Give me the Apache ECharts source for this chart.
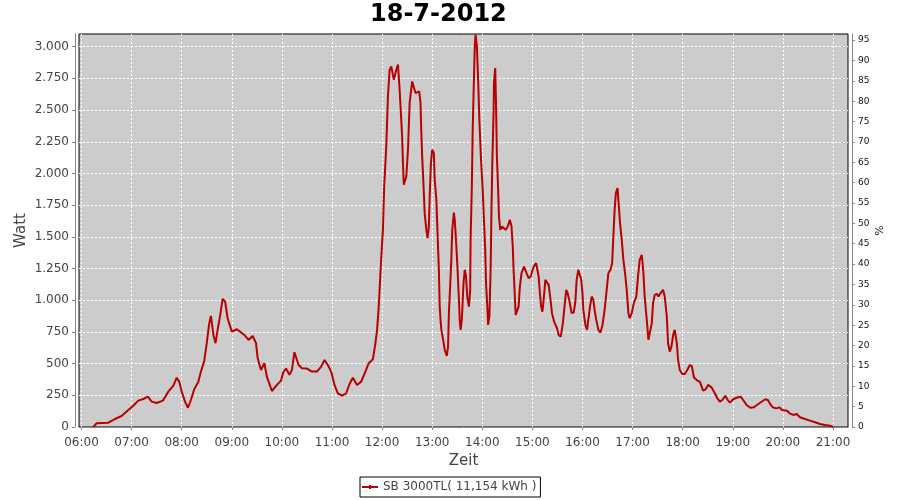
<!DOCTYPE html>
<html>
<head>
<meta charset="utf-8">
<script src="https://cdn.jsdelivr.net/npm/echarts@6/dist/echarts.min.js"></script>
<style>html,body{margin:0;padding:0;background:#fff}#c{width:900px;height:500px}</style>
</head>
<body>
<div id="c"></div>
<script>
// Minutes since midnight
const minutes = [374,378,392,400,408,416,422,428,434,439.5,444,450,457.5,464,470,474,477,480,484,487.5,491,495,500,503,507,510,513,515,518,520.5,523,526,529,532,535,540,546,550,555,560,565,569,571,575,579,582,588,594,599,602,605,609,612,615,617,620,624,630,636,642,647,651,655,659,663,667,672,677,681,685,690,695,700,704,709,712,714,716,718,720,721,722.5,725,727,729,731,734,737,739,741,742.5,744,745,746,749,751,753,756,758,760,762,764.5,766,767,768,769.5,771,773,774.5,776,777,778.5,780,782,783,785,786,787,788,789,790,791,793.5,795,797.5,799,800,801.5,803,804,806,807,808.5,810,811.5,813,814,815.5,817.5,819,820.5,822,824,825.5,826,827.5,828.5,830,831,832,833.5,835,836.5,838.5,840.5,842,843.5,844.5,846,847,848.5,850,851,852,853.5,854,855.5,856.5,857.5,859,860,861.5,863.5,865.5,868,870.5,873,875,876.5,877.5,879,880,882,883.5,885,887,890,893,895.5,898,901.5,904.5,907.5,909,910.5,912,913.5,915.5,917.5,919.5,921.5,923.5,926,929.5,931.5,934,936.5,938.5,940.5,942,944.5,947,949.5,951.5,953,955,956.5,958.5,960,961,963.5,965.5,967,969,971,973,974.5,976.5,979,981.5,984,986.5,989,991,993.5,995.5,997,998.5,1000,1002,1003,1005,1007,1009,1011,1013,1015,1016.5,1019,1021.5,1024.5,1026.5,1028.5,1031,1033,1034.5,1037,1039,1040.5,1043,1044.5,1046.5,1049,1051,1053.5,1056.5,1058.5,1061,1062.5,1064.5,1066.5,1069,1070.5,1073,1074.5,1076.5,1079.5,1082.5,1085.5,1088.5,1091,1093.5,1097.5,1100.5,1104.5,1107.5,1110.5,1114.5,1118.5,1121.5,1124.5,1127.5,1131,1134,1136.5,1140.5,1144.5,1149.5,1152.5,1156.5,1161,1165,1169,1173.5,1179,1182,1185,1188,1192,1196,1199,1205,1208,1212.5,1216.5,1220.5,1226.5,1232.5,1238.5,1244.5,1250.5,1256.5,1260.5];
// Watt
const watt = [0,29,34,63,87,134,168,208,221,239,200,189,208,279,326,389,358,279,200,152,213,297,358,437,521,661,819,876,726,661,766,876,1011,989,858,752,771,752,726,687,718,661,542,450,503,397,284,332,366,437,461,411,450,590,576,489,463,461,437,437,476,529,489,437,332,266,247,266,339,389,332,358,437,503,535,660,766,950,1213,1450,1555,1897,2213,2608,2818,2845,2740,2818,2858,2661,2477,2292,2082,1911,1976,2187,2556,2726,2714,2634,2634,2647,2556,2319,2134,1924,1687,1555,1490,1581,1818,2082,2187,2161,1950,1792,1608,1424,1240,950,845,766,674,608,561,634,898,1108,1332,1555,1692,1634,1476,1292,1082,845,766,845,1134,1240,1187,1029,950,1082,1476,1897,2345,2740,3003,3095,3003,2740,2424,2108,1871,1634,1397,1134,950,805,871,1240,1713,2082,2477,2714,2832,2529,2134,1871,1660,1555,1581,1569,1555,1581,1634,1581,1424,1240,1029,884,871,950,1108,1213,1266,1213,1174,1187,1266,1292,1187,1056,950,910,1003,1161,1174,1121,1016,898,831,779,726,713,819,950,1082,1061,990,898,903,990,1161,1240,1253,1161,1056,924,805,766,845,950,1029,1003,924,845,766,745,805,924,1082,1213,1240,1292,1503,1713,1845,1884,1792,1608,1476,1318,1213,1082,898,858,898,977,1029,1187,1318,1358,1213,1029,845,687,687,819,977,1042,1050,1029,1056,1082,1029,871,661,595,634,740,766,661,529,450,418,418,450,489,480,390,366,358,287,297,332,313,266,227,200,213,247,213,192,219,231,239,213,174,152,155,174,195,219,213,179,155,147,155,134,129,108,95,103,77,63,50,37,24,16,10,0];
const titleText = '18-7-2012';
const seriesName = 'SB 3000TL( 11,154 kWh )';
const xTicks = [360,420,480,540,600,660,720,780,840,900,960,1020,1080,1140,1200,1260];
const wattTicks = [0,250,500,750,1000,1250,1500,1750,2000,2250,2500,2750,3000];
const pctTicks = [0,5,10,15,20,25,30,35,40,45,50,55,60,65,70,75,80,85,90,95];

const data = minutes.map((m, i) => [m, watt[i]]);
const pad = n => (n < 10 ? '0' : '') + n;
const fmtTime = v => pad(Math.floor(v / 60)) + ':' + pad(Math.round(v % 60));
const fmtWatt = v => v >= 1000 ? Math.floor(v / 1000) + '.' + String(v % 1000).padStart(3, '0') : String(v);

const FONT = 'DejaVu Sans';
const chart = echarts.init(document.getElementById('c'), null, {renderer: 'canvas'});
chart.setOption({
  animation: false,
  backgroundColor: '#fff',
  title: {
    text: titleText, left: 365, top: -2,
    textStyle: {fontFamily: FONT, fontSize: 24, fontWeight: 'bold', color: '#000'}
  },
  legend: {
    left: 360, top: 477, padding: [4, 4, 4, 2],
    borderColor: '#000', borderWidth: 1, backgroundColor: '#fff',
    itemWidth: 16, itemHeight: 4, itemGap: 5,
    icon: 'path://M0,1 H16 V3 H0 Z M7,0 H9 V4 H7 Z',
    textStyle: {fontFamily: FONT, fontSize: 12, color: '#444'},
    data: [seriesName]
  },
  grid: {
    left: 79, right: 52, top: 34, bottom: 73,
    show: true, backgroundColor: '#cccccc', borderColor: '#000', borderWidth: 1
  },
  xAxis: {
    type: 'value', min: 357, max: 1278, offset: 4,
    name: 'Zeit', nameLocation: 'middle', nameGap: 23, nameMoveOverlap: false,
    nameTextStyle: {fontFamily: FONT, fontSize: 15, color: '#444'},
    axisLine: {show: true, lineStyle: {color: '#888', width: 1}},
    axisTick: {show: true, length: 3, lineStyle: {color: '#888'}, customValues: xTicks},
    axisLabel: {customValues: xTicks, formatter: fmtTime, margin: 6, fontFamily: FONT, fontSize: 12, color: '#444'},
    splitLine: {show: true, lineStyle: {color: '#fff', width: 1, type: [2, 2]}}
  },
  yAxis: [{
    type: 'value', min: 0, max: 3100, offset: 4, position: 'left',
    name: 'Watt', nameLocation: 'middle', nameGap: 46, nameRotate: 90, nameMoveOverlap: false,
    nameTextStyle: {fontFamily: FONT, fontSize: 15, color: '#444'},
    axisLine: {show: true, lineStyle: {color: '#888', width: 1}},
    axisTick: {show: true, length: 3, lineStyle: {color: '#888'}, customValues: wattTicks},
    axisLabel: {customValues: wattTicks, formatter: fmtWatt, margin: 6, fontFamily: FONT, fontSize: 12, color: '#444'},
    splitLine: {show: true, lineStyle: {color: '#fff', width: 1, type: [2, 2]}}
  }, {
    type: 'value', min: 0, max: 96.5, offset: 4, position: 'right',
    name: '%', nameLocation: 'middle', nameGap: 23, nameRotate: 90, nameMoveOverlap: false,
    nameTextStyle: {fontFamily: FONT, fontSize: 11, color: '#222'},
    axisLine: {show: true, lineStyle: {color: '#888', width: 1}},
    axisTick: {show: true, length: 3, lineStyle: {color: '#888'}, customValues: pctTicks},
    axisLabel: {customValues: pctTicks, margin: 6, fontFamily: FONT, fontSize: 9, color: '#111'},
    splitLine: {show: false}
  }],
  series: [{
    name: seriesName, type: 'line', yAxisIndex: 0,
    data: data, showSymbol: false, symbol: 'none',
    lineStyle: {color: '#b80000', width: 2},
    itemStyle: {color: '#b80000'}
  }]
});
</script>
</body>
</html>
